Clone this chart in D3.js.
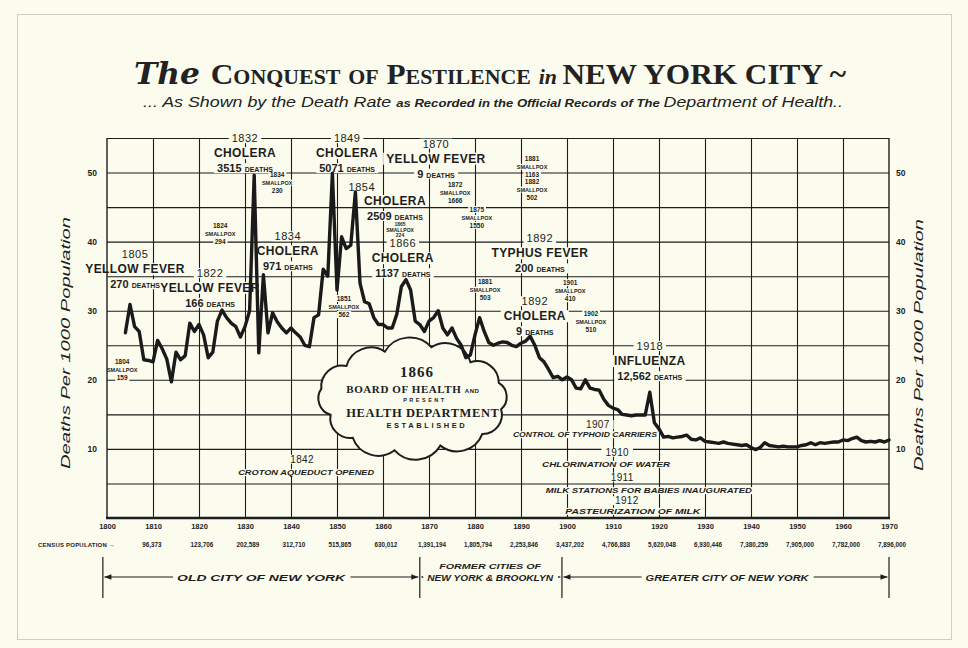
<!DOCTYPE html>
<html><head><meta charset="utf-8">
<script src="https://cdn.jsdelivr.net/npm/d3@7"></script>
<style>body{margin:0;background:#fbfbee;} svg{display:block}</style>
</head><body><svg id="c" width="968" height="648"></svg>
<script>
// ---------------- DATA ----------------
const startYear = 1804;
// Deaths per 1000 population, one value per year 1804-1970
const deathRate = [
  26.8,30.9,27.7,27.0,22.9,22.8,22.6,25.7,24.5,23.0,   // 1804-1813
  19.7,24.0,22.9,23.5,28.2,27.0,28.0,26.5,23.2,24.0,   // 1814-1823
  28.5,30.1,29.0,28.2,27.7,26.2,27.7,30.0,49.6,23.9,   // 1824-1833
  35.2,26.8,29.7,28.4,27.5,26.8,27.5,26.8,26.2,25.0,   // 1834-1843
  24.8,29.0,29.4,36.0,35.0,49.9,33.0,40.7,39.0,39.5,   // 1844-1853
  47.2,34.0,31.3,31.0,29.0,28.0,28.0,27.5,27.5,29.5,   // 1854-1863
  33.5,34.5,33.0,28.5,28.0,27.0,28.5,29.0,30.0,27.5,   // 1864-1873
  26.5,27.5,26.0,25.0,23.2,23.6,26.5,29.0,27.0,25.4,   // 1874-1883
  25.0,25.3,25.5,25.4,25.0,24.8,25.3,25.6,26.3,25.0,   // 1884-1893
  23.2,22.6,21.5,20.3,20.5,20.0,20.4,20.0,18.8,18.7,   // 1894-1903
  20.0,18.8,18.6,18.5,17.2,16.3,15.9,15.7,15.0,14.9,   // 1904-1913
  14.8,14.9,14.9,14.9,18.2,13.8,12.9,11.7,11.8,11.6,   // 1914-1923
  11.7,11.8,12.0,11.4,11.3,11.6,11.1,11.0,10.9,10.8,   // 1924-1933
  11.0,10.8,10.7,10.6,10.5,10.6,10.2,9.9,10.2,10.9,    // 1934-1943
  10.5,10.4,10.3,10.4,10.3,10.3,10.3,10.5,10.6,10.9,   // 1944-1953
  10.6,10.9,10.8,10.9,11.0,11.0,11.3,11.2,11.5,11.7,   // 1954-1963
  11.2,11.0,11.1,11.0,11.2,11.0,11.3                   // 1964-1970
];
const decades = [1800,1810,1820,1830,1840,1850,1860,1870,1880,1890,1900,1910,1920,1930,1940,1950,1960,1970];
const gridRates = [5,10,15,20,25,30,35,40,45,50,55];
const rateTicks = [10,20,30,40,50];
const censusYears = [1810,1820,1830,1840,1850,1860,1870,1880,1890,1900,1910,1920,1930,1940,1950,1960,1970];
const censusPop = ["96,373","123,706","202,589","312,710","515,865","630,012","1,391,194","1,805,794","2,253,846","3,437,202","4,766,883","5,620,048","6,930,446","7,380,259","7,905,000","7,782,000","7,896,000"];

const epidemicLabels = [
  {year:1830.0, rate:54.4, lines:["1832","CHOLERA","3515 DEATHS"]},
  {year:1852.2, rate:54.4, lines:["1849","CHOLERA","5071 DEATHS"]},
  {year:1855.4, rate:47.3, lines:["1854"]},
  {year:1862.6, rate:45.3, lines:["CHOLERA","2509 DEATHS"]},
  {year:1871.5, rate:53.6, lines:["1870","YELLOW FEVER","9 DEATHS"]},
  {year:1864.3, rate:39.2, lines:["1866","CHOLERA","1137 DEATHS"]},
  {year:1839.3, rate:40.2, lines:["1834","CHOLERA","971 DEATHS"]},
  {year:1806.1, rate:37.6, lines:["1805","YELLOW FEVER","270 DEATHS"]},
  {year:1822.4, rate:34.9, lines:["1822","YELLOW FEVER","166 DEATHS"]},
  {year:1894.1, rate:39.9, lines:["1892","TYPHUS FEVER","200 DEATHS"]},
  {year:1893.0, rate:30.8, lines:["1892","CHOLERA","9 DEATHS"]},
  {year:1918.0, rate:24.3, lines:["1918","INFLUENZA","12,562 DEATHS"]}
];
const smallpoxLabels = [
  {year:1803.3, rate:22.3, lines:["1804","SMALLPOX","159"]},
  {year:1824.6, rate:42.0, lines:["1824","SMALLPOX","294"]},
  {year:1837.0, rate:49.4, lines:["1834","SMALLPOX","230"]},
  {year:1851.5, rate:31.4, lines:["1851","SMALLPOX","562"]},
  {year:1863.7, rate:42.2, lines:["1865","SMALLPOX","224"], tight:true},
  {year:1875.7, rate:47.9, lines:["1872","SMALLPOX","1666"]},
  {year:1880.4, rate:44.3, lines:["1875","SMALLPOX","1550"]},
  {year:1892.4, rate:51.7, lines:["1881","SMALLPOX","1163"]},
  {year:1892.4, rate:48.4, lines:["1882","SMALLPOX","502"]},
  {year:1882.2, rate:33.9, lines:["1881","SMALLPOX","503"]},
  {year:1900.7, rate:33.7, lines:["1901","SMALLPOX","410"]},
  {year:1905.2, rate:29.2, lines:["1902","SMALLPOX","510"]}
];
const reformNotes = [
  {label:"1842", at:[1842.4,8.0],  text:"CROTON AQUEDUCT OPENED",              textAt:[1843.3,6.2], len:136},
  {label:"1907", at:[1906.7,13.0], text:"CONTROL OF TYPHOID CARRIERS",         textAt:[1903.9,11.7], len:144},
  {label:"1910", at:[1910.9,9.0],  text:"CHLORINATION OF WATER",               textAt:[1908.5,7.4], len:128},
  {label:"1911", at:[1912.0,5.4],  text:"MILK STATIONS FOR BABIES INAUGURATED",textAt:[1917.8,3.6], len:206},
  {label:"1912", at:[1913.0,2.0],  text:"PASTEURIZATION OF MILK",              textAt:[1914.3,0.6], len:135}
];
const boardNote = {year:1866.5, rate:17.2, lines:["1866","BOARD OF HEALTH AND","PRESENT","HEALTH DEPARTMENT","ESTABLISHED"]};
const cityEras = [
  {from:1799.1, to:1868.0, at:1833.5, labels:["OLD CITY OF NEW YORK"]},
  {from:1868.0, to:1898.9, at:1883.3, labels:["FORMER CITIES OF","NEW YORK & BROOKLYN"]},
  {from:1898.9, to:1970.0, at:1934.8, labels:["GREATER CITY OF NEW YORK"]}
];

// ---------------- DRAW ----------------
const W=968, H=648;
const paper="#fbfbee", ink="#1d1d1d";
const svg=d3.select("#c");
svg.append("rect").attr("width",W).attr("height",H).attr("fill",paper);
svg.append("rect").attr("x",17.5).attr("y",14.5).attr("width",934).attr("height",625)
   .attr("fill","none").attr("stroke","#cfcfc0");

const x=d3.scaleLinear().domain([1800,1970]).range([107,889]);
const y=d3.scaleLinear().domain([0,55]).range([518,138]);
const [x0,x1]=x.range(), [yb,yt]=y.range();

// Title
const title=svg.append("text").attr("x",490).attr("y",84).attr("text-anchor","middle")
  .attr("textLength",712).attr("lengthAdjust","spacingAndGlyphs")
  .attr("font-family","Liberation Serif, serif").attr("font-weight","bold").attr("font-size",30).attr("fill","#222");
title.append("tspan").attr("font-style","italic").attr("font-family","DejaVu Serif, serif").text("The ");
title.append("tspan").attr("font-variant","small-caps").text("Conquest of Pestilence ");
title.append("tspan").attr("font-style","italic").attr("font-size",21).text("in ");
title.append("tspan").text("NEW YORK CITY ~");
const sub=svg.append("text").attr("x",143).attr("y",107)
  .attr("textLength",700).attr("lengthAdjust","spacingAndGlyphs")
  .attr("font-family","Liberation Sans, sans-serif").attr("font-style","italic").attr("font-size",15).attr("fill","#222");
sub.append("tspan").text("... As Shown by the Death Rate ");
sub.append("tspan").attr("font-size",11).attr("font-weight","bold").text("as Recorded in the Official Records of The ");
sub.append("tspan").text("Department of Health..");

// Grid
const gGrid=svg.append("g");
gGrid.append("g").attr("transform",`translate(${x0},0)`)
  .call(d3.axisLeft(y).tickValues(gridRates).tickSize(-(x1-x0)).tickFormat(""))
  .call(g=>g.select(".domain").remove())
  .selectAll("line").attr("stroke",ink).attr("stroke-width",1.1);
gGrid.append("g").attr("transform",`translate(0,${yb})`)
  .call(d3.axisBottom(x).tickValues(decades.slice(1,-1)).tickSize(-(yb-yt)).tickFormat(""))
  .call(g=>g.select(".domain").remove())
  .selectAll("line").attr("stroke",ink).attr("stroke-width",1.1);

const gBg=svg.append("g");
const gCloud=svg.append("g");
const gFrame=svg.append("g");
const gLine=svg.append("g");
const gText=svg.append("g").attr("fill",ink).attr("font-family","Liberation Sans, Arial, sans-serif");

function bgFor(node,padX=2,padY=0){
  const b=node.getBBox();
  gBg.append("rect").attr("x",b.x-padX).attr("y",b.y+padY).attr("width",b.width+2*padX).attr("height",b.height-2*padY).attr("fill",paper);
}

// epidemic labels
epidemicLabels.forEach(d=>{
  d.lines.forEach((ln,i)=>{
    const t=gText.append("text").attr("x",x(d.year)).attr("y",y(d.rate)+i*15).attr("text-anchor","middle");
    if(/^\d{4}$/.test(ln)){ t.attr("font-size",11).attr("font-weight","normal").attr("letter-spacing",0.5).text(ln); }
    else if(/DEATHS$/.test(ln)){
      const num=ln.replace(/ DEATHS$/,"");
      t.attr("font-weight","bold");
      t.append("tspan").attr("font-size",11).text(num+" ");
      t.append("tspan").attr("font-size",7).text("DEATHS");
    } else { t.attr("font-size",12).attr("font-weight","bold").attr("letter-spacing",0.4).text(ln); }
    bgFor(t.node(),3,1);
  });
});
// smallpox labels
smallpoxLabels.forEach(d=>{
  const lh=d.tight?5.5:8;
  d.lines.forEach((ln,i)=>{
    const t=gText.append("text").attr("x",x(d.year)).attr("y",y(d.rate)+i*lh).attr("text-anchor","middle")
      .attr("font-size",d.tight?5:(/^\d+$/.test(ln)?6.5:5.5)).attr("font-weight","bold").text(ln);
    bgFor(t.node(),1.5,d.tight?1:0);
  });
});
// reform notes
reformNotes.forEach(d=>{
  const a=gText.append("text").attr("x",x(d.at[0])).attr("y",y(d.at[1])).attr("text-anchor","middle")
    .attr("font-size",10).attr("letter-spacing",0.3).text(d.label);
  bgFor(a.node(),4,1);
  const b=gText.append("text").attr("x",x(d.textAt[0])).attr("y",y(d.textAt[1])).attr("text-anchor","middle")
    .attr("font-size",7.5).attr("font-weight","bold").attr("font-style","italic")
    .attr("textLength",d.len).attr("lengthAdjust","spacingAndGlyphs").text(d.text);
  bgFor(b.node(),2,1);
});

// cloud
(function(){
  const cx=x(boardNote.year), cy=y(boardNote.rate), rx=90, ry=51, n=12;
  const pts=d3.range(n).map(i=>{const a=2*Math.PI*i/n+0.2; const k=1+0.04*Math.sin(i*2.3); return [cx+rx*k*Math.cos(a), cy+ry*k*Math.sin(a)];});
  let dd=`M${pts[0][0]},${pts[0][1]}`;
  pts.forEach((p,i)=>{const q=pts[(i+1)%n]; const c=Math.hypot(q[0]-p[0],q[1]-p[1]); const r=c*0.62; dd+=`A${r},${r} 0 0 1 ${q[0]},${q[1]}`;});
  gCloud.append("path").attr("d",dd+"Z").attr("fill",paper).attr("stroke",ink).attr("stroke-width",2);
  const sty=[
    {dx:4,dy:-22,fs:15,ff:"Liberation Serif, serif",ls:1,fw:"bold"},
    {dx:0,dy:-6,fs:11,ff:"Liberation Serif, serif",ls:0.6,fw:"bold"},
    {dx:12,dy:3,fs:5.5,ff:"Liberation Sans, sans-serif",ls:2.5,fw:"bold"},
    {dx:10,dy:18,fs:12.5,ff:"Liberation Serif, serif",ls:0.6,fw:"bold"},
    {dx:14,dy:29,fs:7.5,ff:"Liberation Sans, sans-serif",ls:2.6,fw:"bold"}
  ];
  boardNote.lines.forEach((ln,i)=>{
    const s=sty[i];
    const t=gText.append("text").attr("x",cx+s.dx).attr("y",cy+s.dy).attr("text-anchor","middle")
      .attr("font-family",s.ff).attr("font-size",s.fs).attr("letter-spacing",s.ls).attr("font-weight",s.fw);
    if(ln.endsWith(" AND")){ t.append("tspan").text(ln.replace(/ AND$/,"")+" "); t.append("tspan").attr("font-size",6).attr("font-family","Liberation Sans, sans-serif").text("AND"); }
    else t.text(ln);
  });
})();

// frame (left, right, bottom borders)
gFrame.append("line").attr("x1",x0).attr("x2",x0).attr("y1",yt).attr("y2",yb).attr("stroke",ink).attr("stroke-width",1.4);
gFrame.append("line").attr("x1",x1).attr("x2",x1).attr("y1",yt).attr("y2",yb).attr("stroke",ink).attr("stroke-width",1.4);
gFrame.append("line").attr("x1",x0-1).attr("x2",x1+1).attr("y1",yb).attr("y2",yb).attr("stroke",ink).attr("stroke-width",2.6);

// data line
const line=d3.line().x((d,i)=>x(startYear+i)).y(d=>y(d)).curve(d3.curveLinear);
gLine.append("path").datum(deathRate).attr("d",line).attr("fill","none").attr("stroke","#1a1a1a")
  .attr("stroke-width",3.4).attr("stroke-linejoin","round").attr("stroke-linecap","round");

// axes labels
const axL=svg.append("g").attr("transform",`translate(${x0},0)`)
  .call(d3.axisLeft(y).tickValues(rateTicks).tickSize(0).tickPadding(10));
const axR=svg.append("g").attr("transform",`translate(${x1},0)`)
  .call(d3.axisRight(y).tickValues(rateTicks).tickSize(0).tickPadding(7));
[axL,axR].forEach(a=>{a.select(".domain").remove(); a.selectAll("text").attr("font-size",8.5).attr("font-weight","bold").attr("fill",ink).attr("font-family","Liberation Sans, sans-serif");});
const axB=svg.append("g").attr("transform",`translate(0,${yb})`)
  .call(d3.axisBottom(x).tickValues(decades).tickFormat(d3.format("d")).tickSize(0).tickPadding(6));
axB.select(".domain").remove();
axB.selectAll("text").attr("font-size",7.5).attr("font-weight","bold").attr("fill",ink).attr("font-family","Liberation Sans, sans-serif");

// axis titles
[[70,343],[923,345]].forEach(([px,py])=>{
  svg.append("text").attr("transform",`translate(${px},${py}) rotate(-90)`).attr("text-anchor","middle")
    .attr("font-family","Liberation Sans, sans-serif").attr("font-style","italic").attr("font-size",13)
    .attr("textLength",252).attr("lengthAdjust","spacingAndGlyphs").attr("fill",ink)
    .text("Deaths Per 1000 Population");
});

// census row
svg.append("text").attr("x",38).attr("y",547).attr("font-size",6).attr("font-weight","bold").attr("fill",ink)
  .attr("font-family","Liberation Sans, sans-serif").attr("letter-spacing",0.2).text("CENSUS POPULATION \u2192");
censusYears.forEach((yr,i)=>{
  svg.append("text").attr("x",x(yr)+(i===0?-1:3)).attr("y",547).attr("text-anchor","middle")
    .attr("font-size",6.3).attr("font-weight","bold").attr("fill",ink).attr("font-family","Liberation Sans, sans-serif")
    .text(censusPop[i]);
});

// city eras band
const gBand=svg.append("g");
const gBandLn=gBand.append("g"), gBandBg=gBand.append("g"), gBandTx=gBand.append("g");
const bandY=577;
const eraWidths={"OLD CITY OF NEW YORK":168,"FORMER CITIES OF":102,"NEW YORK & BROOKLYN":126,"GREATER CITY OF NEW YORK":163};
cityEras.forEach((e,k)=>{
  const a=x(e.from)+1.5, b=x(e.to)-1.5;
  gBandLn.append("line").attr("x1",a).attr("x2",b).attr("y1",bandY).attr("y2",bandY).attr("stroke",ink).attr("stroke-width",1);
  gBandLn.append("path").attr("d",`M${a},${bandY}l7,-2.8l0,5.6z`).attr("fill",ink);
  gBandLn.append("path").attr("d",`M${b},${bandY}l-7,-2.8l0,5.6z`).attr("fill",ink);
  e.labels.forEach((lb,i)=>{
    const yy = e.labels.length===1 ? 581 : (i===0?569:581);
    const t=gBandTx.append("text").attr("x",x(e.at)).attr("y",yy).attr("text-anchor","middle")
      .attr("font-family","Liberation Sans, sans-serif").attr("font-style","italic").attr("font-weight","bold")
      .attr("font-size",i===0&&e.labels.length>1?8:8.5).attr("textLength",eraWidths[lb]).attr("lengthAdjust","spacingAndGlyphs")
      .attr("fill",ink).text(lb);
    const bb=t.node().getBBox();
    gBandBg.append("rect").attr("x",bb.x-4).attr("y",bb.y).attr("width",bb.width+8).attr("height",bb.height).attr("fill",paper);
  });
});
const bounds=[cityEras[0].from, ...cityEras.map(e=>e.to)];
bounds.forEach(b=>{
  gBand.append("line").attr("x1",x(b)).attr("x2",x(b)).attr("y1",557).attr("y2",598).attr("stroke",ink).attr("stroke-width",1.2);
});
</script>
</body></html>
